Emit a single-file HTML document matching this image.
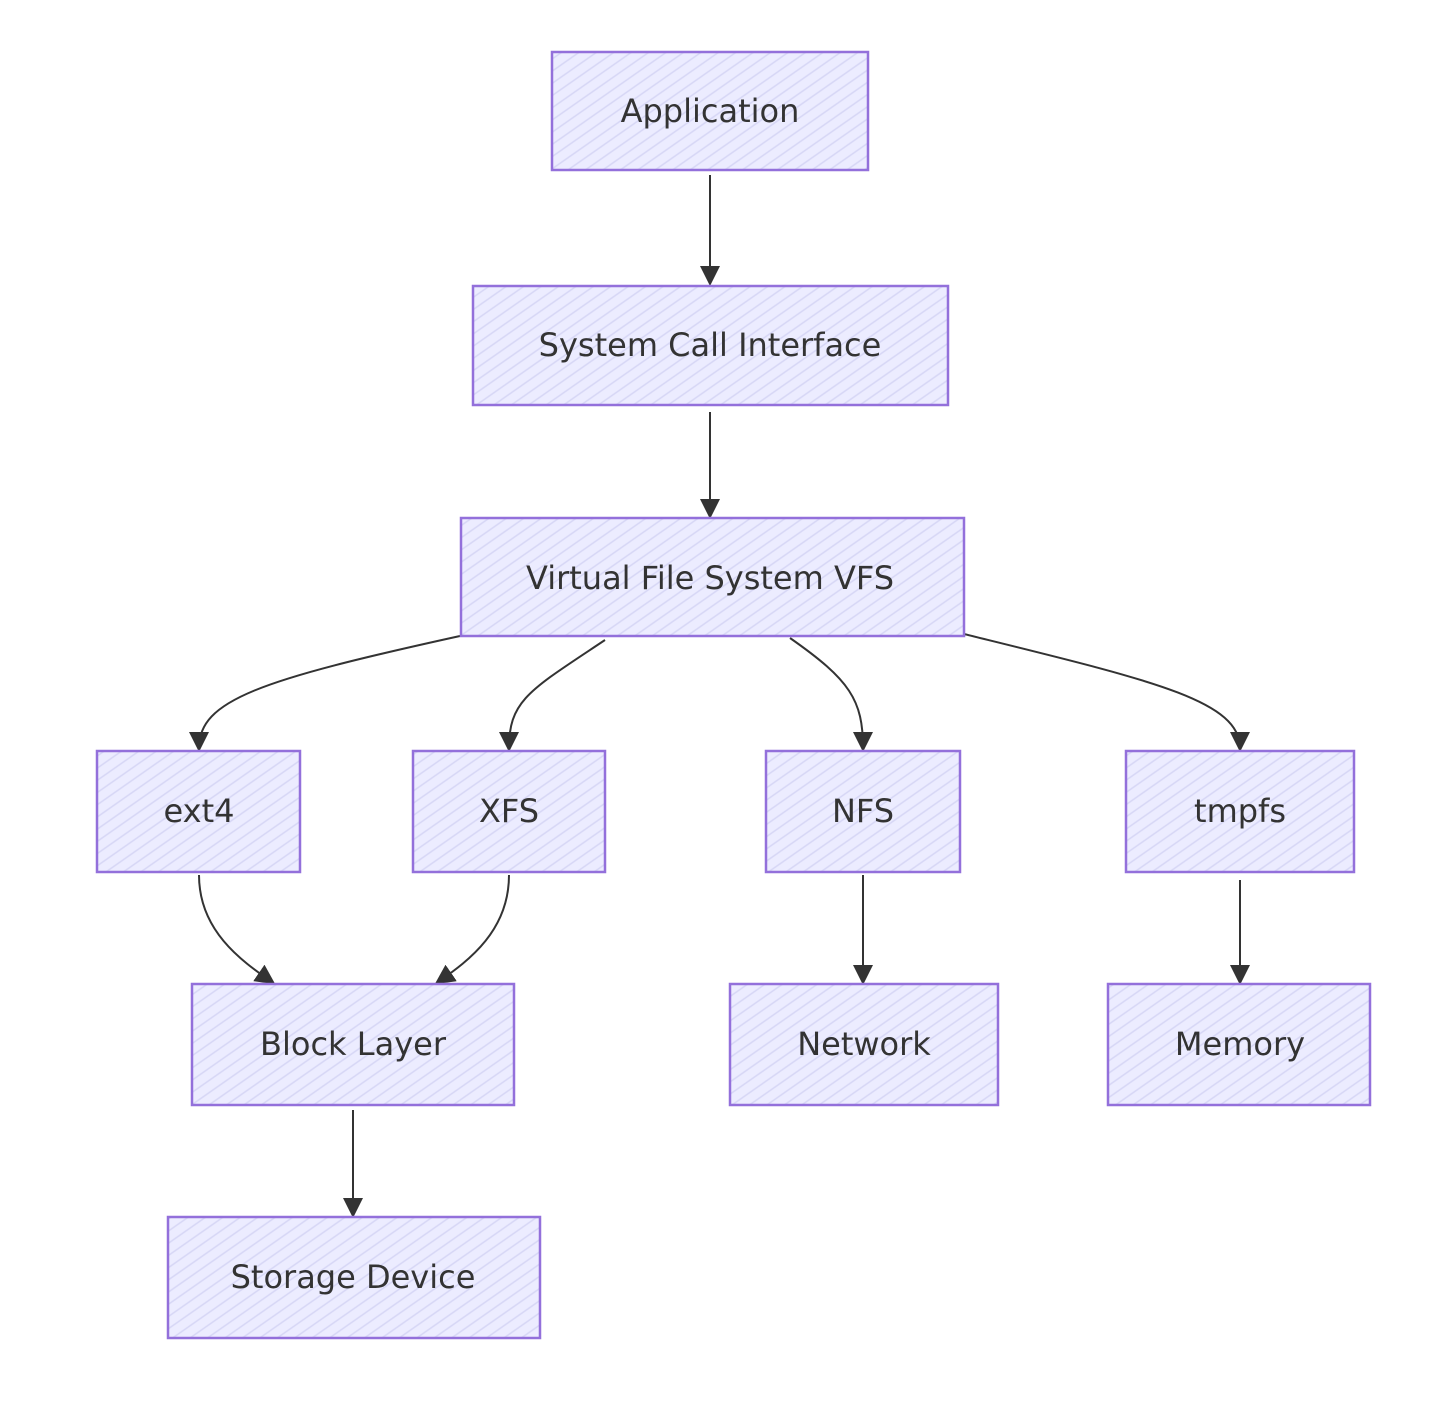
<!DOCTYPE html>
<html><head><meta charset="utf-8"><style>
html,body{margin:0;padding:0;background:#fff;}
svg{display:block;}
text{font-family:"DejaVu Sans","Liberation Sans",sans-serif;font-size:32px;fill:#333;text-anchor:middle;dominant-baseline:central;}
.n{fill:url(#h);stroke:#9370DB;stroke-width:2.5;}
.e{fill:none;stroke:#333;stroke-width:2;}
</style></head><body>
<svg width="1456" height="1407" viewBox="0 0 1456 1407" xmlns="http://www.w3.org/2000/svg">
<defs>
<pattern id="h" width="10" height="10" patternUnits="userSpaceOnUse" patternTransform="rotate(-35)">
<rect width="10" height="10" fill="#ECECFF"/>
<line x1="0" y1="5" x2="10" y2="5" stroke="#d6d6f5" stroke-width="1.5"/>
</pattern>
<marker id="a" markerWidth="10" markerHeight="10" refX="8" refY="5" orient="auto"><path d="M0,0 L10,5 L0,10 z" fill="#333"/></marker>
</defs>
<g class="e">
<path d="M710 175 L710 282" marker-end="url(#a)"/>
<path d="M710 412 L710 515" marker-end="url(#a)"/>
<path d="M460 636 C260 680 199 700 199 748" marker-end="url(#a)"/>
<path d="M605 640 C530 690 509 700 509 748" marker-end="url(#a)"/>
<path d="M790 638 C850 680 863 700 863 748" marker-end="url(#a)"/>
<path d="M964 634 C1150 680 1240 700 1240 748" marker-end="url(#a)"/>
<path d="M199 875 C199 930 240 960 272 982" marker-end="url(#a)"/>
<path d="M509 875 C509 930 470 960 438 982" marker-end="url(#a)"/>
<path d="M863 875 L863 981" marker-end="url(#a)"/>
<path d="M1240 880 L1240 981" marker-end="url(#a)"/>
<path d="M353 1110 L353 1214" marker-end="url(#a)"/>
</g>
<rect class="n" x="552" y="52" width="316" height="118"/><text x="710" y="111">Application</text>
<rect class="n" x="473" y="286" width="475" height="119"/><text x="710" y="345">System Call Interface</text>
<rect class="n" x="461" y="518" width="503" height="118"/><text x="710" y="578">Virtual File System VFS</text>
<rect class="n" x="97" y="751" width="203" height="121"/><text x="199" y="811">ext4</text>
<rect class="n" x="413" y="751" width="192" height="121"/><text x="509" y="811">XFS</text>
<rect class="n" x="766" y="751" width="194" height="121"/><text x="863" y="811">NFS</text>
<rect class="n" x="1126" y="751" width="228" height="121"/><text x="1240" y="811">tmpfs</text>
<rect class="n" x="192" y="984" width="322" height="121"/><text x="353" y="1044">Block Layer</text>
<rect class="n" x="730" y="984" width="268" height="121"/><text x="864" y="1044">Network</text>
<rect class="n" x="1108" y="984" width="262" height="121"/><text x="1240" y="1044">Memory</text>
<rect class="n" x="168" y="1217" width="372" height="121"/><text x="353" y="1277">Storage Device</text>
</svg>
</body></html>
